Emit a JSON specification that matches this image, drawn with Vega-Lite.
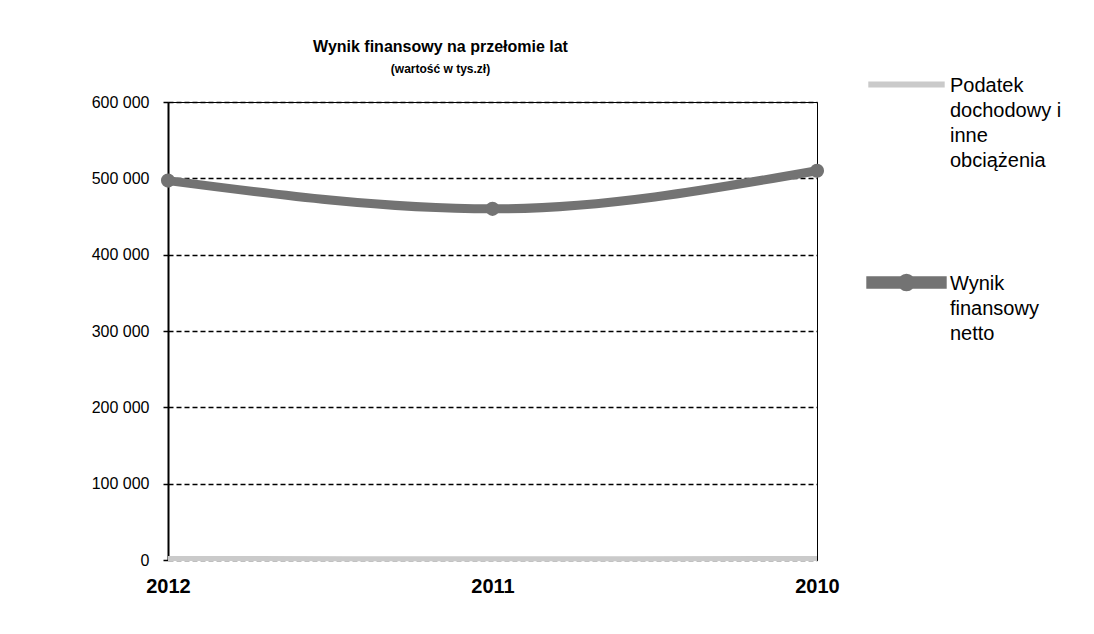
{
  "$schema": "https://vega.github.io/schema/vega-lite/v6.json",
  "autosize": "none",
  "width": 649,
  "height": 458,
  "padding": {"left": 168, "top": 102, "right": 277, "bottom": 74},
  "background": "white",
  "title": {
    "text": "Wynik finansowy na przełomie lat",
    "subtitle": "(wartość w tys.zł)",
    "font": "Liberation Sans Narrow, Liberation Sans",
    "fontSize": 16,
    "fontWeight": "bold",
    "color": "black",
    "subtitleFont": "Liberation Sans Narrow, Liberation Sans",
    "subtitleFontSize": 12,
    "subtitleFontWeight": "bold",
    "subtitleColor": "black",
    "subtitlePadding": 9,
    "anchor": "middle",
    "frame": "group",
    "dx": -52,
    "offset": -29
  },
  "data": {
    "values": [
      {"rok": "2012", "seria": "Podatek dochodowy i inne obciążenia", "wartosc": 2000},
      {"rok": "2011", "seria": "Podatek dochodowy i inne obciążenia", "wartosc": 1500},
      {"rok": "2010", "seria": "Podatek dochodowy i inne obciążenia", "wartosc": 2000},
      {"rok": "2012", "seria": "Wynik finansowy netto", "wartosc": 497000},
      {"rok": "2011", "seria": "Wynik finansowy netto", "wartosc": 460000},
      {"rok": "2010", "seria": "Wynik finansowy netto", "wartosc": 510000}
    ]
  },
  "encoding": {
    "x": {
      "field": "rok",
      "type": "ordinal",
      "sort": ["2012", "2011", "2010"],
      "scale": {"type": "point", "padding": 0},
      "axis": {
        "title": null,
        "labelAngle": 0,
        "labelFont": "Liberation Sans",
        "labelFontSize": 20,
        "labelFontWeight": "bold",
        "labelColor": "black",
        "labelPadding": 16,
        "domain": false,
        "ticks": false,
        "grid": false
      }
    },
    "y": {
      "field": "wartosc",
      "type": "quantitative",
      "scale": {"domain": [0, 600000], "nice": false},
      "axis": {
        "title": null,
        "values": [0, 100000, 200000, 300000, 400000, 500000, 600000],
        "labelExpr": "replace(format(datum.value, ',d'), ',', ' ')",
        "labelFont": "Liberation Sans",
        "labelFontSize": 16,
        "labelColor": "black",
        "labelPadding": 14,
        "domainColor": "black",
        "domainWidth": 2,
        "tickColor": "black",
        "tickSize": 5,
        "tickWidth": 1.5,
        "grid": true,
        "gridColor": "black",
        "gridDash": [5, 3],
        "gridWidth": 1.5
      }
    },
    "color": {
      "field": "seria",
      "type": "nominal",
      "scale": {
        "domain": ["Podatek dochodowy i inne obciążenia", "Wynik finansowy netto"],
        "range": ["#cacaca", "#737373"]
      },
      "legend": {
        "title": null,
        "orient": "none",
        "legendX": 698,
        "legendY": -56,
        "labelFont": "Liberation Sans",
        "labelFontSize": 20,
        "labelColor": "black",
        "labelLimit": 300,
        "labelOffset": 3,
        "labelBaseline": "top",
        "rowPadding": 71,
        "symbolSize": 5100,
        "symbolType": "stroke",
        "labelExpr": "datum.value === 'Wynik finansowy netto' ? ['Wynik', 'finansowy', 'netto'] : ['Podatek', 'dochodowy i', 'inne', 'obciążenia']",
        "encode": {
          "labels": {"update": {"lineHeight": {"value": 25}, "dy": {"value": -9}}},
          "symbols": {
            "update": {
              "shape": {"signal": "datum.value === 'Wynik finansowy netto' ? 'M-1,-0.05L1,-0.05L1,0.05L-1,0.05Z M-0.12,0A0.12,0.12 0 1,1 0.12,0A0.12,0.12 0 1,1 -0.12,0Z' : 'M-1,-0.015L1,-0.015L1,0.015L-1,0.015Z'"},
              "fill": {"signal": "datum.value === 'Wynik finansowy netto' ? '#737373' : '#cacaca'"},
              "fillOpacity": {"value": 1},
              "stroke": {"value": null},
              "strokeWidth": {"value": 0},
              "opacity": {"value": 1}
            }
          }
        }
      }
    }
  },
  "layer": [
    {
      "mark": {"type": "line", "interpolate": "monotone"},
      "encoding": {
        "strokeWidth": {
          "field": "seria",
          "type": "nominal",
          "scale": {
            "domain": ["Podatek dochodowy i inne obciążenia", "Wynik finansowy netto"],
            "range": [5, 9]
          },
          "legend": null
        }
      }
    },
    {
      "transform": [{"filter": "datum.seria === 'Wynik finansowy netto'"}],
      "mark": {"type": "point", "shape": "circle", "filled": true, "size": 200, "opacity": 1}
    }
  ],
  "config": {
    "view": {"stroke": "black", "strokeWidth": 1}
  }
}
